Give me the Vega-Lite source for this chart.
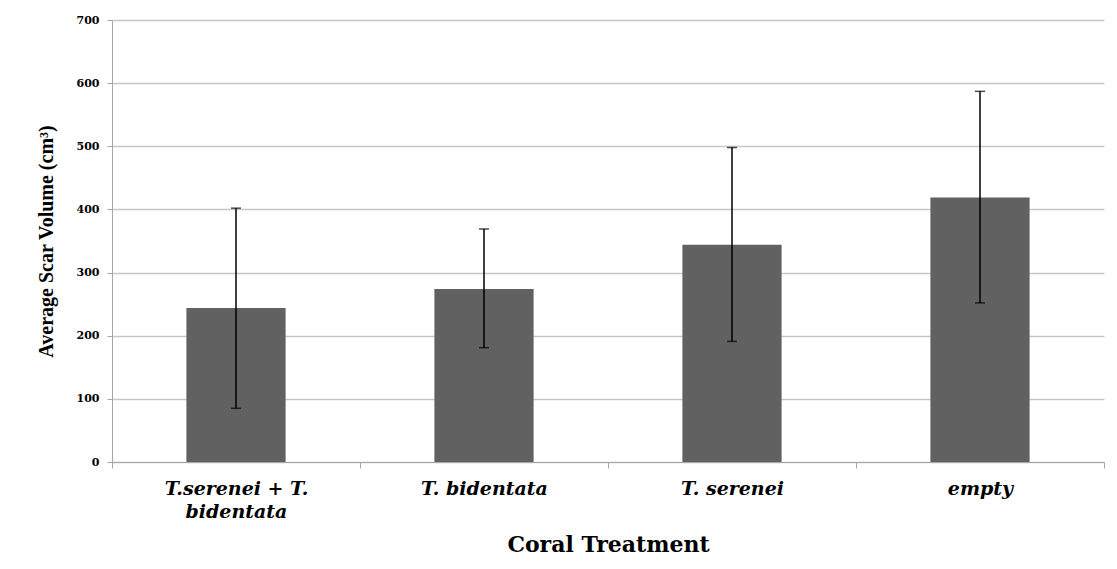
{
  "$schema": "https://vega.github.io/schema/vega-lite/v6.json",
  "width": 992,
  "height": 442,
  "autosize": "none",
  "padding": {"left": 112, "top": 20, "right": 13, "bottom": 107},
  "background": "white",
  "config": {
    "view": {"stroke": null},
    "axis": {"labelColor": "black", "titleColor": "black"}
  },
  "data": {
    "values": [
      {"treatment": "T.serenei + T. bidentata", "mean": 244, "lower": 85, "upper": 402},
      {"treatment": "T. bidentata", "mean": 274, "lower": 181, "upper": 369},
      {"treatment": "T. serenei", "mean": 344, "lower": 191, "upper": 498},
      {"treatment": "empty", "mean": 419, "lower": 252, "upper": 587}
    ]
  },
  "encoding": {
    "x": {
      "field": "treatment",
      "type": "nominal",
      "sort": null,
      "scale": {"paddingInner": 0, "paddingOuter": 0},
      "axis": {
        "title": "Coral Treatment",
        "labelAngle": 0,
        "labelFont": "DejaVu Serif",
        "labelFontSize": 19,
        "labelFontWeight": "bold",
        "labelFontStyle": "italic",
        "labelLineHeight": 23,
        "labelPadding": 11,
        "labelExpr": "datum.label == 'T.serenei + T. bidentata' ? ['T.serenei + T.', 'bidentata'] : datum.label",
        "tickBand": "extent",
        "tickSize": 6,
        "tickColor": "#a6a6a6",
        "domainColor": "#a6a6a6",
        "grid": false,
        "titleFont": "DejaVu Serif",
        "titleFontSize": 22,
        "titleFontWeight": "bold",
        "titlePadding": 13
      }
    }
  },
  "layer": [
    {
      "mark": {"type": "bar", "color": "#616161", "width": {"band": 0.4}},
      "encoding": {
        "y": {
          "field": "mean",
          "type": "quantitative",
          "scale": {"domain": [0, 700], "nice": false},
          "axis": {
            "title": "Average Scar Volume (cm³)",
            "values": [0, 100, 200, 300, 400, 500, 600, 700],
            "labelFont": "DejaVu Serif",
            "labelFontSize": 11,
            "labelFontWeight": "bold",
            "labelPadding": 8,
            "tickSize": 5,
            "tickColor": "#a6a6a6",
            "domainColor": "#a6a6a6",
            "gridColor": "#c6c6c6",
            "gridWidth": 1.3,
            "titleFont": "Liberation Serif",
            "titleFontSize": 20,
            "titleFontWeight": "bold",
            "titlePadding": 20
          }
        }
      }
    },
    {
      "mark": {"type": "rule", "color": "black", "strokeWidth": 1.5},
      "encoding": {
        "y": {"field": "lower", "type": "quantitative"},
        "y2": {"field": "upper"}
      }
    },
    {
      "mark": {"type": "tick", "color": "black", "size": 10, "thickness": 1.5},
      "encoding": {"y": {"field": "lower", "type": "quantitative"}}
    },
    {
      "mark": {"type": "tick", "color": "black", "size": 10, "thickness": 1.5},
      "encoding": {"y": {"field": "upper", "type": "quantitative"}}
    }
  ]
}
